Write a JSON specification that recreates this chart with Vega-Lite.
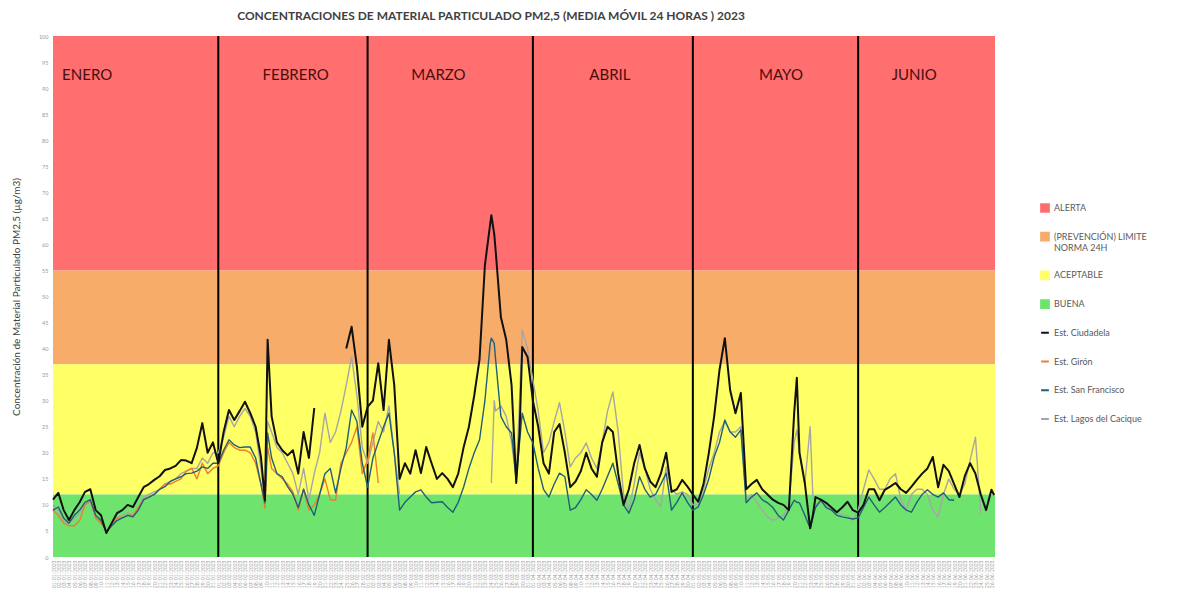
{
  "$schema": "https://vega.github.io/schema/vega-lite/v6.json",
  "width": 942,
  "height": 521,
  "autosize": {"type": "none"},
  "padding": {"left": 53, "top": 36, "right": 186, "bottom": 37},
  "background": "white",
  "title": {
    "text": "CONCENTRACIONES DE MATERIAL PARTICULADO PM2,5 (MEDIA MÓVIL 24 HORAS )  2023",
    "font": "Lato",
    "fontSize": 12,
    "fontWeight": "bold",
    "color": "#404040",
    "anchor": "middle",
    "dx": -33,
    "offset": 11
  },
  "config": {
    "font": "Lato",
    "view": {"stroke": null},
    "axisY": {
      "labelFontSize": 5.5,
      "labelColor": "#9a9a9a",
      "domain": false,
      "ticks": false,
      "grid": false,
      "labelPadding": 5,
      "tickCount": 20,
      "titleFont": "Lato",
      "titleFontSize": 10,
      "titleFontWeight": "normal",
      "titleColor": "#404040",
      "titlePadding": 17
    },
    "axisX": {
      "domain": false,
      "ticks": false,
      "grid": false
    }
  },
  "layer": [
    {
      "data": {"values": [
        {"k": "ALERTA", "lo": 55, "hi": 100},
        {"k": "PREV", "lo": 37, "hi": 55},
        {"k": "ACEPTABLE", "lo": 12, "hi": 37},
        {"k": "BUENA", "lo": 0, "hi": 12}
      ]},
      "mark": {"type": "rect"},
      "encoding": {
        "y": {"field": "lo", "type": "quantitative", "scale": {"domain": [0, 100], "nice": false}, "title": "Concentración de Material Particulado PM2,5 (µg/m3)"},
        "y2": {"field": "hi"},
        "color": {
          "field": "k", "type": "nominal",
          "scale": {
            "domain": ["ALERTA", "PREV", "ACEPTABLE", "BUENA", "c", "g", "s", "l"],
            "range": ["#FF6F6F", "#F8AC6A", "#FFFF66", "#6EE46E", "#111111", "#ED7D31", "#215F78", "#A6A6A6"]
          },
          "legend": {
            "orient": "none", "legendX": 987, "legendY": 166, "title": null,
            "labelFont": "Lato", "labelFontSize": 9, "labelColor": "#595959", "labelLimit": 220,
            "rowPadding": 16.7, "symbolSize": 60, "symbolStrokeWidth": 2, "clipHeight": 12,
            "labelExpr": "datum.value === 'c' ? 'Est. Ciudadela' : datum.value === 'g' ? 'Est. Girón' : datum.value === 's' ? 'Est. San Francisco' : datum.value === 'l' ? 'Est. Lagos del Cacique' : datum.value === 'PREV' ? ['(PREVENCIÓN) LIMITE', 'NORMA 24H'] : datum.label",
            "encode": {"symbols": {"update": {
              "shape": {"signal": "indexof(['c','g','s','l'], datum.value) >= 0 ? 'stroke' : 'square'"},
              "fill": {"signal": "indexof(['c','g','s','l'], datum.value) >= 0 ? 'transparent' : scale('color', datum.value)"},
              "stroke": {"signal": "indexof(['c','g','s','l'], datum.value) >= 0 ? scale('color', datum.value) : 'transparent'"},
              "strokeWidth": {"value": 2},
              "opacity": {"value": 1}
            }}}
          }
        }
      }
    },
    {
      "data": {"values": [
        {"d": "2023-02-01"}, {"d": "2023-03-01"}, {"d": "2023-04-01"}, {"d": "2023-05-01"}, {"d": "2023-06-01"}
      ]},
      "mark": {"type": "rule", "color": "#000000", "strokeWidth": 2},
      "encoding": {
        "x": {"field": "d", "type": "temporal", "scale": {"type": "utc"}, "title": null}
      }
    },
    {
      "data": {"values": [
        {"d":"2023-01-01","c":11,"g":9,"s":9,"l":10},
        {"d":"2023-01-02","c":12.3,"g":8,"s":9.6,"l":9},
        {"d":"2023-01-03","c":9,"g":6.5,"s":7.5,"l":7},
        {"d":"2023-01-04","c":7.1,"g":6,"s":6.5,"l":6.5},
        {"d":"2023-01-05","c":9,"g":6,"s":8,"l":7.5},
        {"d":"2023-01-06","c":10.5,"g":7,"s":9,"l":8.5},
        {"d":"2023-01-07","c":12.5,"g":10,"s":10.5,"l":10},
        {"d":"2023-01-08","c":13,"g":11,"s":11,"l":10.5},
        {"d":"2023-01-09","c":9,"g":7.5,"s":8,"l":7.5},
        {"d":"2023-01-10","c":8,"g":6.5,"s":7,"l":7},
        {"d":"2023-01-11","c":4.6,"g":5,"s":4.8,"l":5},
        {"d":"2023-01-12","c":6.5,"g":6,"s":6,"l":6},
        {"d":"2023-01-13","c":8.4,"g":7.5,"s":7,"l":7.5},
        {"d":"2023-01-14","c":9,"g":7.5,"s":7.5,"l":8},
        {"d":"2023-01-15","c":10,"g":8,"s":8,"l":8.5},
        {"d":"2023-01-16","c":9.6,"g":8,"s":7.7,"l":8},
        {"d":"2023-01-17","c":11.5,"g":9.5,"s":9,"l":9.5},
        {"d":"2023-01-18","c":13.4,"g":11,"s":11,"l":11.5},
        {"d":"2023-01-19","c":14,"g":11.5,"s":11.5,"l":12},
        {"d":"2023-01-20","c":14.8,"g":12,"s":12,"l":12.5},
        {"d":"2023-01-21","c":15.5,"g":13,"s":13,"l":13},
        {"d":"2023-01-22","c":16.7,"g":14,"s":13.5,"l":14},
        {"d":"2023-01-23","c":17,"g":14,"s":14.5,"l":14.5},
        {"d":"2023-01-24","c":17.5,"g":14.5,"s":15,"l":15},
        {"d":"2023-01-25","c":18.6,"g":15,"s":15.4,"l":16},
        {"d":"2023-01-26","c":18.5,"g":16.5,"s":16,"l":16.5},
        {"d":"2023-01-27","c":18,"g":17,"s":16.1,"l":17},
        {"d":"2023-01-28","c":21,"g":15,"s":16.5,"l":17},
        {"d":"2023-01-29","c":25.7,"g":18,"s":17.3,"l":19},
        {"d":"2023-01-30","c":20,"g":16,"s":17,"l":18},
        {"d":"2023-01-31","c":22,"g":17,"s":18,"l":20},
        {"d":"2023-02-01","c":18,"g":17.5,"s":18,"l":20},
        {"d":"2023-02-02","c":24,"g":20,"s":20.5,"l":23},
        {"d":"2023-02-03","c":28.2,"g":22,"s":22.5,"l":27},
        {"d":"2023-02-04","c":26.3,"g":21,"s":21.5,"l":25},
        {"d":"2023-02-05","c":28,"g":20.5,"s":21,"l":27},
        {"d":"2023-02-06","c":29.8,"g":20.5,"s":21.1,"l":28.5},
        {"d":"2023-02-07","c":27.6,"g":20,"s":21.1,"l":27},
        {"d":"2023-02-08","c":25,"g":18,"s":19,"l":24},
        {"d":"2023-02-09","c":19.2,"g":14,"s":14,"l":17},
        {"d":"2023-02-09T18:00:00Z","c":10.9,"g":9.4,"s":10.4,"l":11},
        {"d":"2023-02-10T06:00:00Z","c":41.7,"g":21,"s":23.8,"l":26},
        {"d":"2023-02-11","c":27,"g":17,"s":19,"l":24},
        {"d":"2023-02-12","c":22,"g":16,"s":16,"l":21},
        {"d":"2023-02-13","c":20.5,"g":15,"s":15.4,"l":20},
        {"d":"2023-02-14","c":19.5,"g":14,"s":13.5,"l":18},
        {"d":"2023-02-15","c":20.5,"g":12.5,"s":12,"l":16},
        {"d":"2023-02-16","c":16,"g":9,"s":9.5,"l":12},
        {"d":"2023-02-17","c":24,"g":13,"s":13,"l":17},
        {"d":"2023-02-18","c":19,"g":9,"s":10,"l":11},
        {"d":"2023-02-19","c":28.6,"g":10,"s":8,"l":16},
        {"d":"2023-02-20","c":null,"g":12,"s":12,"l":20},
        {"d":"2023-02-21","c":null,"g":15,"s":16,"l":27.6},
        {"d":"2023-02-22","c":null,"g":11,"s":17,"l":22},
        {"d":"2023-02-23","c":null,"g":10.9,"s":12.3,"l":24},
        {"d":"2023-02-24","c":null,"g":18,"s":17,"l":28},
        {"d":"2023-02-25","c":40,"g":20,"s":21,"l":33},
        {"d":"2023-02-26","c":44.2,"g":22,"s":28.2,"l":38.4},
        {"d":"2023-02-27","c":36.5,"g":25,"s":26,"l":31},
        {"d":"2023-02-28","c":25,"g":16,"s":18,"l":21},
        {"d":"2023-03-01","c":28.8,"g":18.6,"s":13.4,"l":18},
        {"d":"2023-03-02","c":30,"g":23.8,"s":19,"l":22},
        {"d":"2023-03-03","c":37.2,"g":14.2,"s":22,"l":26},
        {"d":"2023-03-04","c":28.2,"g":null,"s":25,"l":24},
        {"d":"2023-03-05","c":41.7,"g":null,"s":27.6,"l":29},
        {"d":"2023-03-06","c":33,"g":null,"s":20,"l":20},
        {"d":"2023-03-07","c":15,"g":null,"s":9,"l":12},
        {"d":"2023-03-08","c":18,"g":null,"s":10.5,"l":null},
        {"d":"2023-03-09","c":16,"g":null,"s":11.5,"l":null},
        {"d":"2023-03-10","c":20.5,"g":null,"s":12.5,"l":null},
        {"d":"2023-03-11","c":16.1,"g":null,"s":12.9,"l":null},
        {"d":"2023-03-12","c":21.1,"g":null,"s":11.5,"l":null},
        {"d":"2023-03-13","c":18,"g":null,"s":10.4,"l":null},
        {"d":"2023-03-14","c":15,"g":null,"s":10.5,"l":null},
        {"d":"2023-03-15","c":16.1,"g":null,"s":10.6,"l":null},
        {"d":"2023-03-16","c":15,"g":null,"s":9.5,"l":null},
        {"d":"2023-03-17","c":13.4,"g":null,"s":8.6,"l":null},
        {"d":"2023-03-18","c":16,"g":null,"s":10.5,"l":null},
        {"d":"2023-03-19","c":21,"g":null,"s":13.4,"l":null},
        {"d":"2023-03-20","c":25,"g":null,"s":17,"l":null},
        {"d":"2023-03-21","c":31,"g":null,"s":20,"l":null},
        {"d":"2023-03-22","c":38,"g":null,"s":22.5,"l":null},
        {"d":"2023-03-23","c":56,"g":null,"s":30,"l":null},
        {"d":"2023-03-24","c":64,"g":null,"s":41,"l":null},
        {"d":"2023-03-24T05:00:00Z","c":65.6,"g":null,"s":42,"l":14.2},
        {"d":"2023-03-24T18:00:00Z","c":62,"g":null,"s":41,"l":30},
        {"d":"2023-03-25","c":59,"g":null,"s":38,"l":28},
        {"d":"2023-03-26","c":46,"g":null,"s":27,"l":29},
        {"d":"2023-03-27","c":41.7,"g":null,"s":25,"l":27},
        {"d":"2023-03-28","c":33,"g":null,"s":23.8,"l":22},
        {"d":"2023-03-28T21:00:00Z","c":14.2,"g":null,"s":14.8,"l":15},
        {"d":"2023-03-29T12:00:00Z","c":23.8,"g":null,"s":22,"l":30},
        {"d":"2023-03-30","c":40.3,"g":null,"s":27.6,"l":43.6},
        {"d":"2023-03-31","c":38.4,"g":null,"s":24,"l":40},
        {"d":"2023-04-01","c":30,"g":null,"s":21.9,"l":34},
        {"d":"2023-04-02","c":25,"g":null,"s":17,"l":28},
        {"d":"2023-04-03","c":18,"g":null,"s":13,"l":20},
        {"d":"2023-04-04","c":16,"g":null,"s":11.5,"l":22},
        {"d":"2023-04-05","c":24,"g":null,"s":14,"l":26},
        {"d":"2023-04-06","c":25.5,"g":null,"s":16.1,"l":29.6},
        {"d":"2023-04-07","c":20,"g":null,"s":15.4,"l":24},
        {"d":"2023-04-08","c":13.4,"g":null,"s":9,"l":17.3},
        {"d":"2023-04-09","c":14.5,"g":null,"s":9.5,"l":19},
        {"d":"2023-04-10","c":16.5,"g":null,"s":11,"l":20},
        {"d":"2023-04-11","c":20,"g":null,"s":12.9,"l":21.9},
        {"d":"2023-04-12","c":17,"g":null,"s":12,"l":19},
        {"d":"2023-04-13","c":15.4,"g":null,"s":10.9,"l":17},
        {"d":"2023-04-14","c":22,"g":null,"s":13,"l":22},
        {"d":"2023-04-15","c":25,"g":null,"s":15.5,"l":28},
        {"d":"2023-04-16","c":24,"g":null,"s":18,"l":31.7},
        {"d":"2023-04-17","c":16,"g":null,"s":14,"l":24},
        {"d":"2023-04-18","c":10,"g":null,"s":10,"l":12},
        {"d":"2023-04-19","c":13,"g":null,"s":8.4,"l":9},
        {"d":"2023-04-20","c":18,"g":null,"s":11,"l":14},
        {"d":"2023-04-21","c":21.5,"g":null,"s":15.4,"l":20},
        {"d":"2023-04-22","c":17,"g":null,"s":13,"l":17},
        {"d":"2023-04-23","c":14.5,"g":null,"s":11.5,"l":13},
        {"d":"2023-04-24","c":13.4,"g":null,"s":12,"l":11},
        {"d":"2023-04-25","c":16,"g":null,"s":14,"l":9.6},
        {"d":"2023-04-26","c":20,"g":null,"s":16.1,"l":17.3},
        {"d":"2023-04-27","c":12.5,"g":null,"s":9,"l":13},
        {"d":"2023-04-28","c":13,"g":null,"s":10.5,"l":12},
        {"d":"2023-04-29","c":14.8,"g":null,"s":12.3,"l":12.5},
        {"d":"2023-04-30","c":13.5,"g":null,"s":10.5,"l":12},
        {"d":"2023-05-01","c":12,"g":null,"s":9,"l":10},
        {"d":"2023-05-02","c":10.6,"g":null,"s":9.6,"l":10},
        {"d":"2023-05-03","c":14,"g":null,"s":12,"l":13},
        {"d":"2023-05-04","c":20,"g":null,"s":15,"l":17},
        {"d":"2023-05-05","c":27,"g":null,"s":19.2,"l":20},
        {"d":"2023-05-06","c":35.9,"g":null,"s":22,"l":24},
        {"d":"2023-05-07","c":42,"g":null,"s":26.3,"l":26},
        {"d":"2023-05-08","c":32,"g":null,"s":24,"l":24},
        {"d":"2023-05-09","c":27.6,"g":null,"s":23,"l":24},
        {"d":"2023-05-10","c":31.5,"g":null,"s":24.4,"l":25},
        {"d":"2023-05-11","c":13,"g":null,"s":10.4,"l":11},
        {"d":"2023-05-12","c":14,"g":null,"s":11.5,"l":12},
        {"d":"2023-05-13","c":14.8,"g":null,"s":12.3,"l":10.5},
        {"d":"2023-05-14","c":13,"g":null,"s":11,"l":9},
        {"d":"2023-05-15","c":12,"g":null,"s":10.4,"l":7.7},
        {"d":"2023-05-16","c":11,"g":null,"s":9.5,"l":7},
        {"d":"2023-05-17","c":10.4,"g":null,"s":8,"l":7.5},
        {"d":"2023-05-18","c":10,"g":null,"s":7.1,"l":8},
        {"d":"2023-05-19","c":9,"g":null,"s":9,"l":10},
        {"d":"2023-05-20","c":27.6,"g":null,"s":10.9,"l":22},
        {"d":"2023-05-20T12:00:00Z","c":34.4,"g":null,"s":10.5,"l":24.4},
        {"d":"2023-05-21","c":20,"g":null,"s":10.4,"l":20},
        {"d":"2023-05-22","c":14.2,"g":null,"s":8,"l":14},
        {"d":"2023-05-23","c":5.5,"g":null,"s":5.5,"l":25},
        {"d":"2023-05-23T12:00:00Z","c":8,"g":null,"s":7.5,"l":12},
        {"d":"2023-05-24","c":11.5,"g":null,"s":9.5,"l":10},
        {"d":"2023-05-25","c":11,"g":null,"s":10.9,"l":10.5},
        {"d":"2023-05-26","c":10.4,"g":null,"s":9.5,"l":10},
        {"d":"2023-05-27","c":9.5,"g":null,"s":9,"l":9},
        {"d":"2023-05-28","c":8.6,"g":null,"s":8,"l":8.5},
        {"d":"2023-05-29","c":9.5,"g":null,"s":7.7,"l":8},
        {"d":"2023-05-30","c":10.6,"g":null,"s":7.5,"l":8},
        {"d":"2023-05-31","c":9,"g":null,"s":7.3,"l":7},
        {"d":"2023-06-01","c":8.5,"g":null,"s":7.5,"l":9},
        {"d":"2023-06-02","c":10,"g":null,"s":9.5,"l":13},
        {"d":"2023-06-03","c":13,"g":null,"s":11.5,"l":16.7},
        {"d":"2023-06-04","c":13,"g":null,"s":10,"l":15},
        {"d":"2023-06-05","c":10.9,"g":null,"s":8.6,"l":13},
        {"d":"2023-06-06","c":12.9,"g":null,"s":9.5,"l":13},
        {"d":"2023-06-07","c":13.5,"g":null,"s":10.5,"l":15},
        {"d":"2023-06-08","c":14.2,"g":null,"s":11.5,"l":16},
        {"d":"2023-06-09","c":13,"g":null,"s":10,"l":11},
        {"d":"2023-06-10","c":12.3,"g":null,"s":9,"l":9},
        {"d":"2023-06-11","c":13.5,"g":null,"s":8.6,"l":12},
        {"d":"2023-06-12","c":14.8,"g":null,"s":10.5,"l":13},
        {"d":"2023-06-13","c":16,"g":null,"s":12,"l":13},
        {"d":"2023-06-14","c":17,"g":null,"s":12.9,"l":12},
        {"d":"2023-06-15","c":19.2,"g":null,"s":12,"l":9},
        {"d":"2023-06-16","c":13.4,"g":null,"s":11.5,"l":7.7},
        {"d":"2023-06-17","c":17.7,"g":null,"s":12.3,"l":12},
        {"d":"2023-06-18","c":16.5,"g":null,"s":11,"l":15},
        {"d":"2023-06-19","c":14,"g":null,"s":10.9,"l":13},
        {"d":"2023-06-20","c":11.5,"g":null,"s":null,"l":12},
        {"d":"2023-06-21","c":15.5,"g":null,"s":null,"l":14},
        {"d":"2023-06-22","c":18,"g":null,"s":null,"l":18.6},
        {"d":"2023-06-23","c":16,"g":null,"s":null,"l":23},
        {"d":"2023-06-24","c":12,"g":null,"s":null,"l":8.4},
        {"d":"2023-06-25","c":9,"g":null,"s":null,"l":null},
        {"d":"2023-06-26","c":12.9,"g":null,"s":null,"l":null},
        {"d":"2023-06-26T12:00:00Z","c":11.9,"g":null,"s":null,"l":null}
      ]},
      "transform": [{"fold": ["l", "g", "s", "c"], "as": ["k", "v"]}],
      "mark": {"type": "line", "invalid": "break-paths-filter-domains", "strokeJoin": "round"},
      "encoding": {
        "x": {
          "field": "d", "type": "temporal", "title": null,
          "scale": {"type": "utc", "domain": [1672531200000, 1687795200000]},
          "axis": {
            "format": "%d/%m/%Y", "labelAngle": 270, "labelFontSize": 5, "labelColor": "#a0a0a0",
            "labelOverlap": false, "labelPadding": 3, "tickCount": {"interval": "day", "step": 1}
          }
        },
        "y": {"field": "v", "type": "quantitative", "title": "Concentración de Material Particulado PM2,5 (µg/m3)"},
        "color": {
          "field": "k", "type": "nominal",
          "scale": {
            "domain": ["ALERTA", "PREV", "ACEPTABLE", "BUENA", "c", "g", "s", "l"],
            "range": ["#FF6F6F", "#F8AC6A", "#FFFF66", "#6EE46E", "#111111", "#ED7D31", "#215F78", "#A6A6A6"]
          },
          "legend": {
            "orient": "none", "legendX": 987, "legendY": 166, "title": null,
            "labelFont": "Lato", "labelFontSize": 9, "labelColor": "#595959", "labelLimit": 220,
            "rowPadding": 16.7, "symbolSize": 60, "symbolStrokeWidth": 2, "clipHeight": 12,
            "labelExpr": "datum.value === 'c' ? 'Est. Ciudadela' : datum.value === 'g' ? 'Est. Girón' : datum.value === 's' ? 'Est. San Francisco' : datum.value === 'l' ? 'Est. Lagos del Cacique' : datum.value === 'PREV' ? ['(PREVENCIÓN) LIMITE', 'NORMA 24H'] : datum.label",
            "encode": {"symbols": {"update": {
              "shape": {"signal": "indexof(['c','g','s','l'], datum.value) >= 0 ? 'stroke' : 'square'"},
              "fill": {"signal": "indexof(['c','g','s','l'], datum.value) >= 0 ? 'transparent' : scale('color', datum.value)"},
              "stroke": {"signal": "indexof(['c','g','s','l'], datum.value) >= 0 ? scale('color', datum.value) : 'transparent'"},
              "strokeWidth": {"value": 2},
              "opacity": {"value": 1}
            }}}
          }
        },
        "strokeWidth": {"condition": {"test": "datum.k === 'c'", "value": 2}, "value": 1.4}
      }
    },
    {
      "data": {"values": [
        {"d": "2023-01-02T17:00:00Z", "m": "ENERO"},
        {"d": "2023-02-09T07:00:00Z", "m": "FEBRERO"},
        {"d": "2023-03-09T05:00:00Z", "m": "MARZO"},
        {"d": "2023-04-11T14:00:00Z", "m": "ABRIL"},
        {"d": "2023-05-13T10:00:00Z", "m": "MAYO"},
        {"d": "2023-06-07T07:00:00Z", "m": "JUNIO"}
      ]},
      "mark": {"type": "text", "align": "left", "baseline": "middle", "font": "Lato", "fontSize": 15, "color": "#4a0d0d"},
      "encoding": {
        "x": {"field": "d", "type": "temporal", "scale": {"type": "utc"}, "title": null},
        "y": {"datum": 92.5},
        "text": {"field": "m"}
      }
    }
  ]
}
